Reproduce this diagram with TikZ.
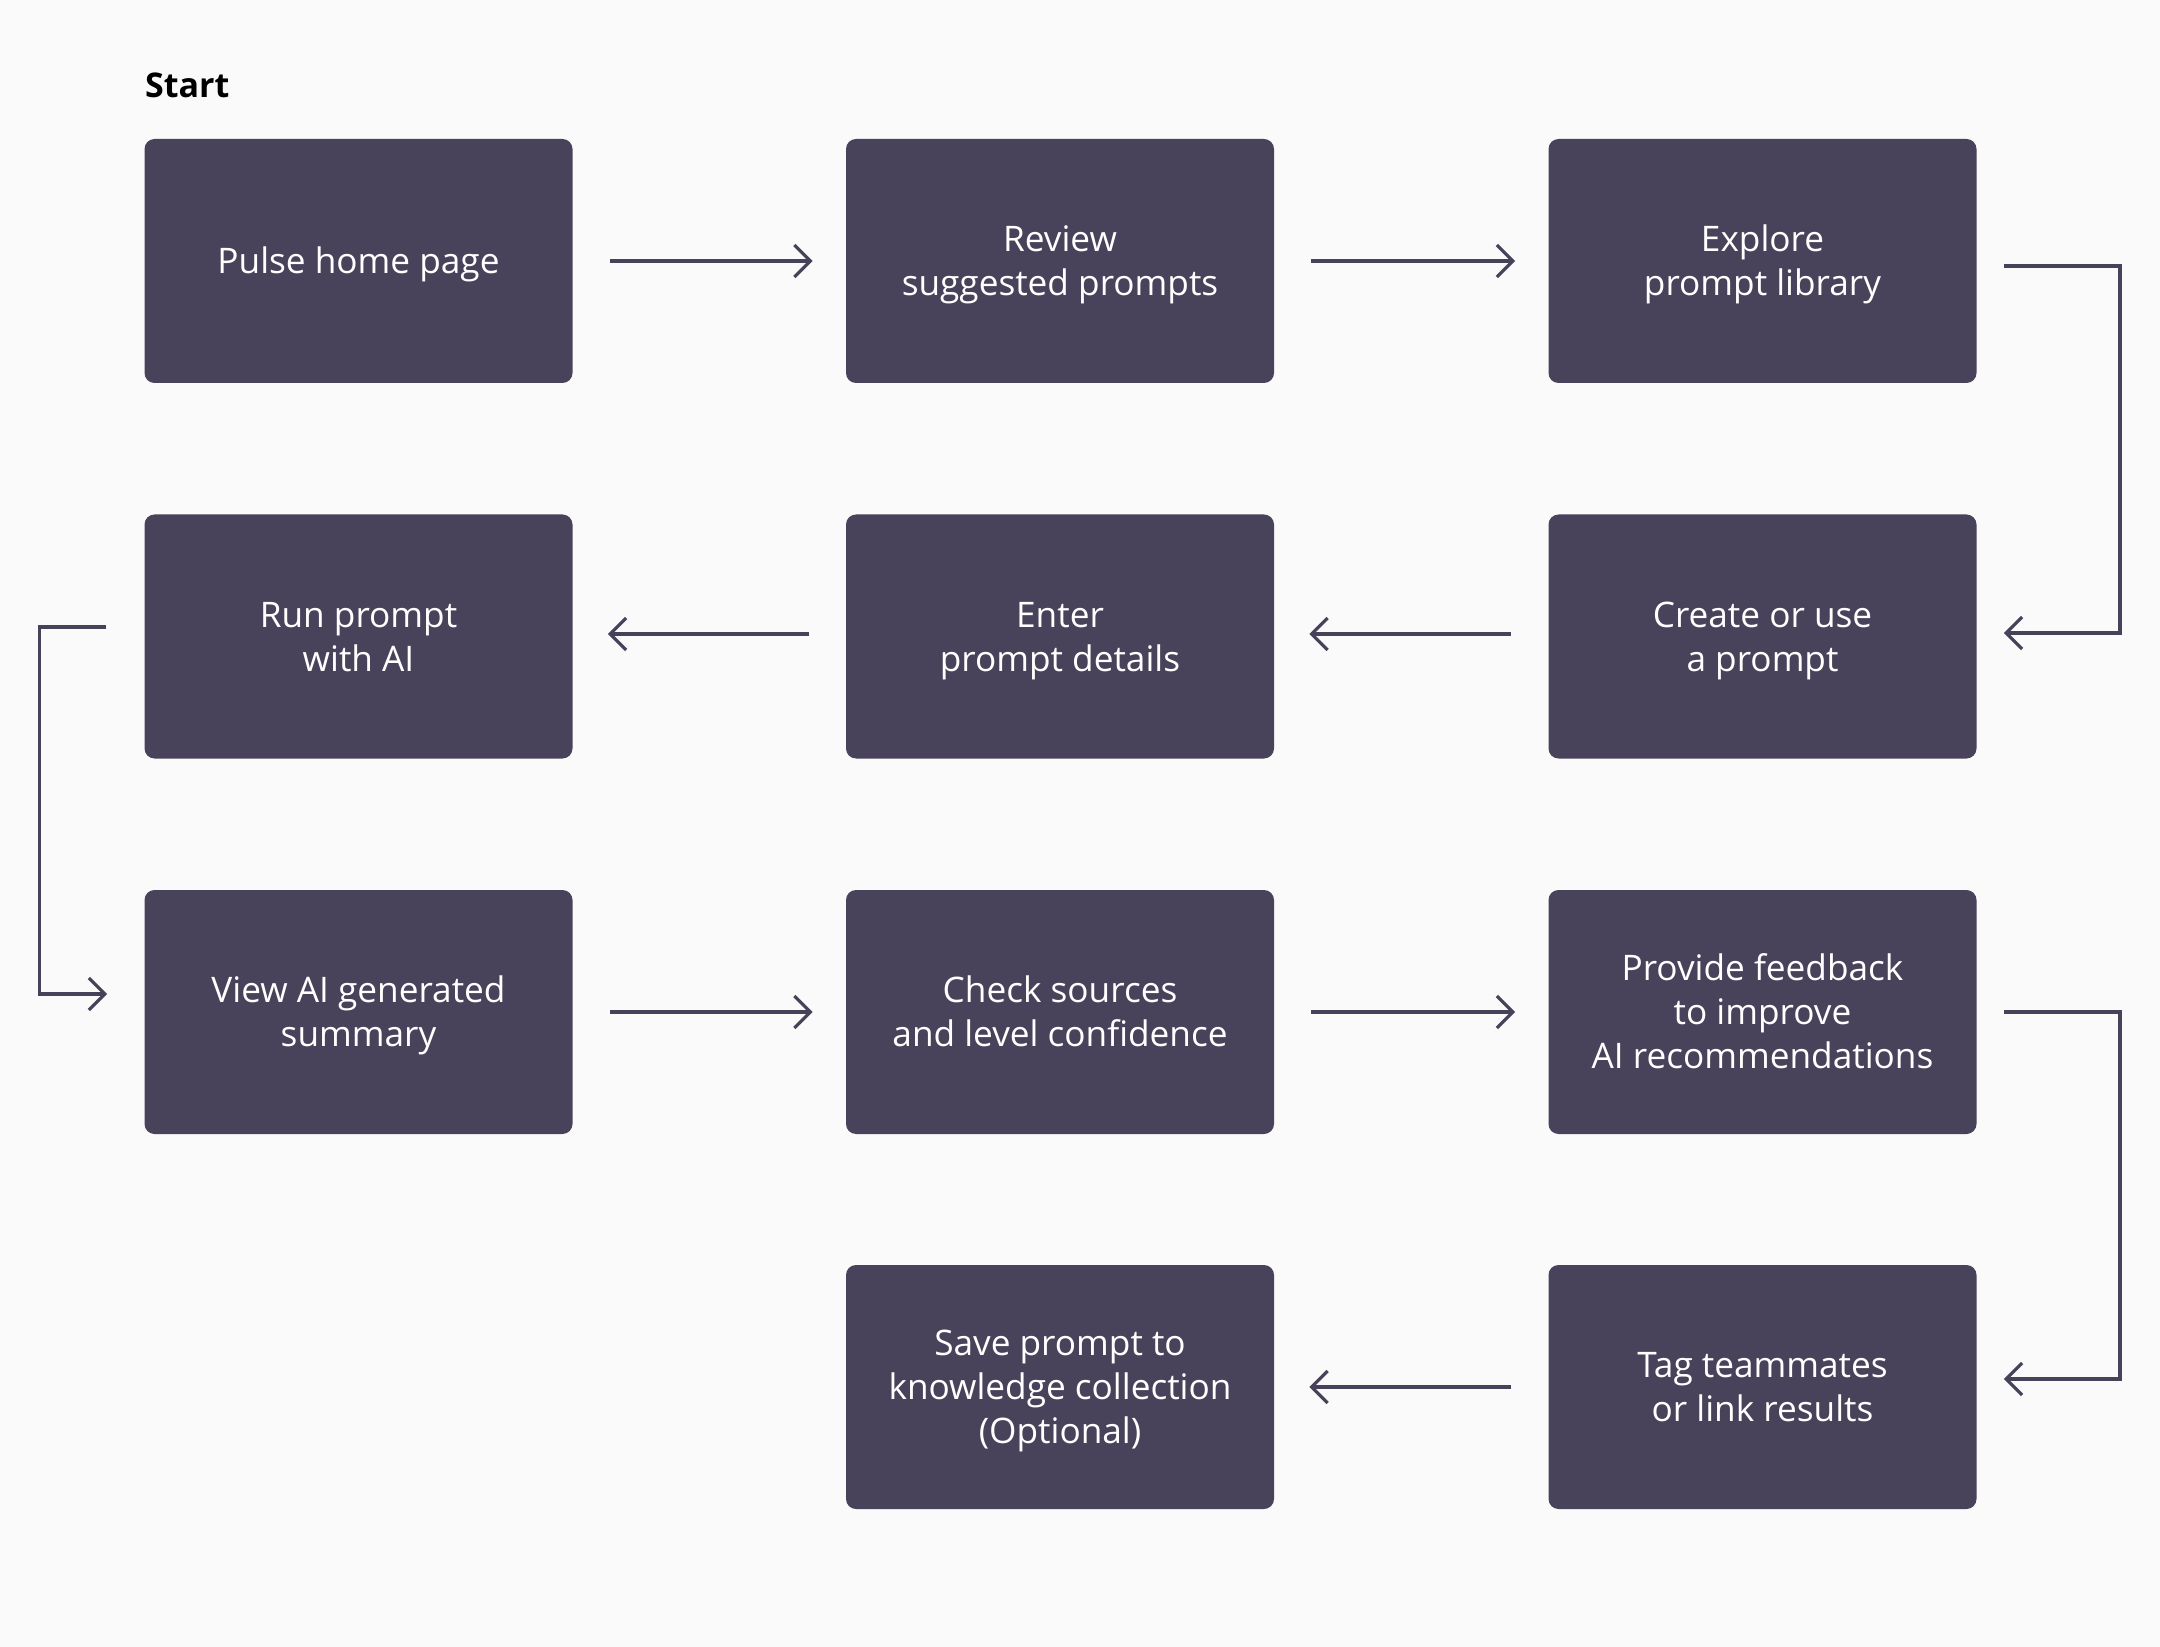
\documentclass[tikz,border=0pt]{standalone}
\usepackage{fontspec}
\setmainfont{Open Sans}
\usetikzlibrary{arrows.meta}
\definecolor{boxc}{HTML}{48435A}
\definecolor{bgc}{HTML}{FAFAFA}
\definecolor{arrc}{HTML}{47425A}
\newcommand\boxstrut{\rule[-5pt]{0pt}{22.57pt}}
\begin{document}
\begin{tikzpicture}[x=0.5pt,y=-0.5pt,
  stepbox/.style={rectangle, rounded corners=5pt, fill=boxc, text=white,
    minimum width=214pt, minimum height=122pt, align=center,
    font=\fontsize{17.6}{22}\selectfont, inner sep=0pt,
    execute at end node=\boxstrut},
  arr/.style={draw=arrc, line width=1.6pt, -{Straight Barb[length=8pt,width=16pt,line width=1.6pt]}}]
\fill[bgc] (0,0) rectangle (2160,1647);
\useasboundingbox (0,0) rectangle (2160,1647);
\node[anchor=west, font=\fontsize{17}{20}\selectfont\bfseries] (start) at (138,85) {Start};
\node[stepbox] (b1) at (358.5,261) {\boxstrut Pulse home page};
\node[stepbox] (b2) at (1060,261) {\boxstrut Review\\suggested prompts};
\node[stepbox] (b3) at (1762.5,261) {\boxstrut Explore\\prompt library};
\node[stepbox] (b4) at (358.5,636.5) {\boxstrut Run prompt\\with AI};
\node[stepbox] (b5) at (1060,636.5) {\boxstrut Enter\\prompt details};
\node[stepbox] (b6) at (1762.5,636.5) {\boxstrut Create or use\\a prompt};
\node[stepbox] (b7) at (358.5,1012) {\boxstrut View AI generated\\summary};
\node[stepbox] (b8) at (1060,1012) {\boxstrut Check sources\\and level confidence};
\node[stepbox] (b9) at (1762.5,1012) {\boxstrut Provide feedback\\to improve\\AI recommendations};
\node[stepbox] (b11) at (1060,1387) {\boxstrut Save prompt to\\knowledge collection\\(Optional)};
\node[stepbox] (b12) at (1762.5,1387) {\boxstrut Tag teammates\\or link results};
% straight arrows
\draw[arr] ([xshift=18.5pt]b1.east) -- ([xshift=-16.5pt]b2.west);
\draw[arr] ([xshift=18.5pt]b2.east) -- ([xshift=-16.5pt]b3.west);
\draw[arr] ([shift={(-37,-2.5)}]b6.west) -- ([shift={(35,-2.5)}]b5.east);
\draw[arr] ([shift={(-37,-2.5)}]b5.west) -- ([shift={(35,-2.5)}]b4.east);
\draw[arr] ([xshift=18.5pt]b7.east) -- ([xshift=-16.5pt]b8.west);
\draw[arr] ([xshift=18.5pt]b8.east) -- ([xshift=-16.5pt]b9.west);
\draw[arr] ([xshift=-18.5pt]b12.west) -- ([xshift=17.5pt]b11.east);
% elbows
\draw[arr] ([shift={(27,5)}]b3.east) -- ++(116,0) |- ([shift={(27,-3.5)}]b6.east);
\draw[arr] ([shift={(-38,-9.5)}]b4.west) -- ++(-67,0) |- ([shift={(-37,-18)}]b7.west);
\draw[arr] ([shift={(27,0)}]b9.east) -- ++(116,0) |- ([shift={(27,-8)}]b12.east);
\end{tikzpicture}
\end{document}
